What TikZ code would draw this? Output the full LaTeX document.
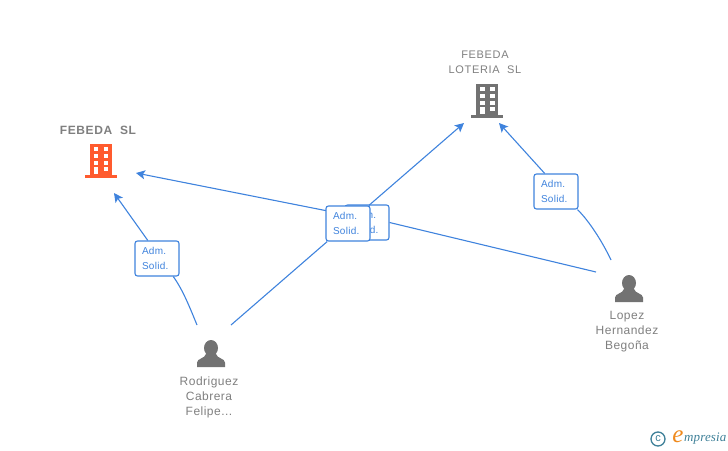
\documentclass[tikz,border=0pt]{standalone}
\usepackage{fontspec}
\setmainfont{Liberation Sans}
\newfontfamily\logofont{Liberation Serif}
\usetikzlibrary{arrows.meta}
\definecolor{linkblue}{HTML}{3F83DD}
\definecolor{labelgrey}{HTML}{7F7F7F}
\definecolor{iconorange}{HTML}{FF5B2E}
\definecolor{logoteal}{HTML}{3E8098}
\definecolor{logoorange}{HTML}{EF8A1E}
\tikzset{
    building/.pic={
        \fill[pic actions] (-11,-31.5) rectangle (11,0);
        \fill[pic actions] (-16,0) rectangle (16,2.5);
        \foreach \y in {-28,-21,-14.5} {
            \fill[white] (-7,\y) rectangle (-2.5,\y+4);
            \fill[white] (3,\y) rectangle (7.5,\y+4);
        }
        \fill[white] (-7,-8) rectangle (-2.5,-1);
        \fill[white] (3,-8) rectangle (7.5,-4);
    },
    personicon/.pic={
        \fill[labelgrey!90!black] (0,-6) ellipse (7 and 8);
        \fill[labelgrey!90!black] (-14,13) -- (-14,8.5) .. controls (-14,4.5) and (-6,4.5) .. (-5,0)
            -- (5,0) .. controls (6,4.5) and (14,4.5) .. (14,8.5) -- (14,13) -- cycle;
    }
}
\begin{document}
\begin{tikzpicture}[x=1pt,y=-1pt,
        company/.style={text=labelgrey, align=center, inner sep=0pt, font=\fontsize{11}{15}\selectfont\addfontfeatures{LetterSpace=6}},
        person/.style={text=labelgrey, align=center, inner sep=0pt, font=\fontsize{12}{15}\selectfont\addfontfeatures{LetterSpace=4}},
        role/.style={draw=linkblue, fill=white, rounded corners=2.5pt, line width=1.1pt, minimum width=44pt, minimum height=35pt,
            text=linkblue, text width=30pt, align=left, inner sep=0pt, font=\fontsize{10}{15}\selectfont\addfontfeatures{LetterSpace=3}},
        link/.style={draw=linkblue, line width=1.1pt},
        linkarrow/.style={link, -{Stealth[length=9pt,width=9pt,inset=2pt]}}]
    \useasboundingbox (0,0) rectangle (728,450);

    % companies
    \node[company, font=\fontsize{12}{15}\selectfont\bfseries\addfontfeatures{LetterSpace=5}] (febeda) at (98,130) {FEBEDA\ \ SL};
    \pic[iconorange] at (100.5,175) {building};
    \node[company] (loteria) at (485,62.5) {FEBEDA\\LOTERIA\ \ SL};
    \pic[labelgrey!90!black] at (487,115) {building};

    % people
    \pic at (211,354) {personicon};
    \node[person] (felipe) at (209,397) {Rodriguez\\Cabrera\\Felipe...};
    \pic at (629,289) {personicon};
    \node[person] (lopez) at (627,332) {Lopez\\Hernandez\\Begoña};

    % free ends of the connectors
    \coordinate (felipeA) at (197,325);
    \coordinate (felipeB) at (231,325);
    \coordinate (lopezA) at (596,272);
    \coordinate (lopezB) at (611,260);
    \coordinate (febedaA) at (114,193);
    \coordinate (febedaB) at (136,173);
    \coordinate (loteriaA) at (464,123);
    \coordinate (loteriaB) at (499,123);

    \node[role] (roleback) at (367,222.5) {Adm.\\Solid.};
    \draw[link] (lopezA) -- (roleback.east);
    \draw[linkarrow] (roleback.160) -- (febedaB);

    \node[role] (rolefelipe) at (157,258.5) {Adm.\\Solid.};
    \draw[link] (felipeA) .. controls (190,308) and (183,290) .. (rolefelipe.312);
    \draw[linkarrow] (rolefelipe.117) -- (febedaA);

    \node[role] (rolefront) at (348,223.5) {Adm.\\Solid.};
    \draw[link] (felipeB) -- (rolefront);
    \draw[linkarrow] (rolefront) -- (loteriaA);

    \node[role] (rolelopez) at (556,191.5) {Adm.\\Solid.};
    \draw[link] (lopezB) .. controls (603,243) and (590,222) .. (rolelopez.320);
    \draw[linkarrow] (rolelopez.122) -- (loteriaB);

    % logo
    \node[draw=logoteal, line width=1.3pt, circle, inner sep=0pt, minimum size=14pt, text=logoteal, font=\fontsize{11}{11}\selectfont] (copyr) at (658,439) {c};
    \node[text=logoorange, inner sep=0pt, font=\logofont\fontsize{25}{25}\selectfont\itshape] (logoe) at (678,437) {e};
    \node[text=logoteal, inner sep=0pt, anchor=west, font=\logofont\fontsize{13}{13}\selectfont\itshape\addfontfeatures{LetterSpace=1}] (logotext) at (684,439) {mpresia};
\end{tikzpicture}
\end{document}
